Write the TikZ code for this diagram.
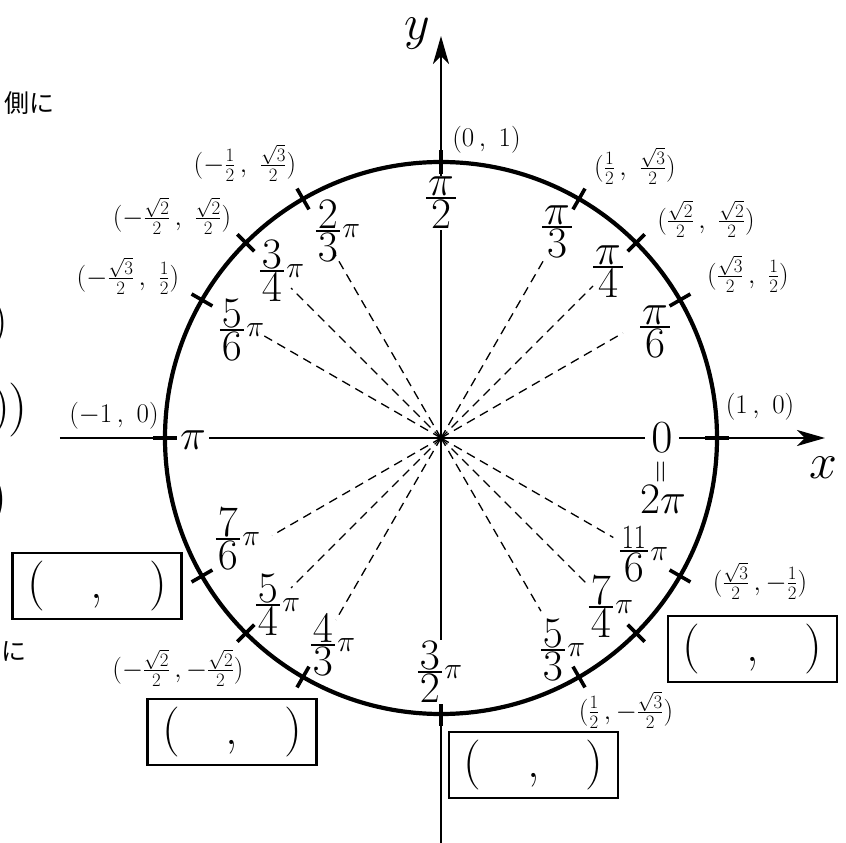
\RequirePackage{fix-cm}
\documentclass[tikz,border=0pt]{standalone}
\usepackage{fontspec}
\newfontfamily\jpfont{Noto Sans CJK JP}
\usetikzlibrary{arrows.meta}
\newcommand\myfr[2]{\vcenter{\offinterlineskip\halign{\hfil\kern2pt$##$\kern2pt\hfil\cr#1\cr\noalign{\kern1.5pt\hrule height1.8pt\kern1.5pt}#2\cr}}}
\newcommand\fpi[2]{$\myfr{#1}{#2}\mkern1mu\raisebox{4pt}{\fontsize{30}{30}\selectfont$\pi$}$}
\begin{document}
\begin{tikzpicture}[x=1pt,y=1pt,
  axis/.style={line width=2.4pt},
  tickmark/.style={line width=3.6pt},
  dashline/.style={line width=1.3pt, dash pattern=on 9pt off 6pt},
  ang/.style={font=\fontsize{43.5}{50}\selectfont, inner sep=1pt},
  crd/.style={font=\fontsize{27}{30}\selectfont, inner sep=0pt},
  qbox/.style={draw, line width=2.3pt, minimum width=169pt, minimum height=66pt, inner sep=0pt, font=\fontsize{50}{55}\selectfont},
  edge/.style={inner sep=0pt, anchor=east},
]
\useasboundingbox (-441,-405) rectangle (405,438);
\clip (-441,-405) rectangle (405,438);
\coordinate (O) at (0,0);
% dashed radii
\foreach \a/\l in {30/210,45/215,60/209,120/214,135/212,150/210,210/195,225/212,240/210,300/200,315/206,330/199}{
  \coordinate (d\a) at (\a:\l);
  \draw[dashline] (O) -- (d\a);
}
% circle
\draw[line width=4.2pt] (O) circle[radius=276];
% ticks
\foreach \a in {0,30,45,60,90,120,135,150,180,210,225,240,270,300,315,330}{
  \coordinate (ti\a) at (\a:264);
  \coordinate (to\a) at (\a:288);
  \draw[tickmark] (ti\a) -- (to\a);
}
% axes
\coordinate (xl) at (-381,0);
\coordinate (xr) at (384,0);
\coordinate (yb) at (0,-410);
\coordinate (yt) at (0,402);
\draw[axis,-{Stealth[length=28pt,width=16pt,inset=8pt]}] (xl) -- (xr);
\draw[axis,-{Stealth[length=28pt,width=16pt,inset=8pt]}] (yb) -- (yt);
\node[font=\fontsize{50}{50}\selectfont] (ylab) at (-24,404) {$y$};
\node[font=\fontsize{50}{50}\selectfont] (xlab) at (382,-30) {$x$};
% angle labels
\node[ang] (a30) at (214,106) {$\myfr{\pi}{6}$};
\node[ang] (a45) at (167,166) {$\myfr{\pi}{4}$};
\node[ang] (a60) at (116,206) {$\myfr{\pi}{3}$};
\node[ang,fill=white,inner xsep=4pt] (a90) at (0,235) {$\myfr{\pi}{2}$};
\node[ang] (a120) at (-103,207) {\fpi{2}{3}};
\node[ang] (a135) at (-159,167) {\fpi{3}{4}};
\node[ang] (a150) at (-199,108) {\fpi{5}{6}};
\node[ang,fill=white,inner xsep=3pt] (a180) at (-248,-2) {$\pi$};
\node[ang] (a210) at (-203,-101) {\fpi{7}{6}};
\node[ang] (a225) at (-163,-167) {\fpi{5}{4}};
\node[ang] (a240) at (-108,-207) {\fpi{4}{3}};
\node[ang,fill=white,inner ysep=2pt] (a270) at (-1,-234) {\fpi{3}{2}};
\node[ang] (a300) at (122,-212) {\fpi{5}{3}};
\node[ang] (a315) at (170,-169) {\fpi{7}{4}};
\node[ang] (a330) at (203,-116) {\fpi{\scalebox{0.6}[0.78]{$11$}}{6}};
\node[ang,fill=white,inner xsep=6pt,font=\fontsize{46}{50}\selectfont] (a0) at (221,0) {$0$};
\node[font=\fontsize{32}{32}\selectfont,inner sep=0pt] (eq) at (222,-34) {\rotatebox{90}{$=$}};
\node[ang] (a360) at (222,-61) {$2\pi$};
% coordinate labels
\node[crd] (c90) at (45.5,298) {$(0\,,\ 1)$};
\node[crd] (c60) at (194,272) {$(\frac12\,,\ \frac{\sqrt3}2)$};
\node[crd] (c45) at (265,219) {$(\frac{\sqrt2}2\,,\ \frac{\sqrt2}2)$};
\node[crd] (c30) at (307,164) {$(\frac{\sqrt3}2\,,\ \frac12)$};
\node[crd] (c0) at (319,31) {$(1\,,\ 0)$};
\node[crd] (c330) at (319,-143) {$(\frac{\sqrt3}2\,,-\frac12)$};
\node[crd] (c300) at (185,-272) {$(\frac12\,,-\frac{\sqrt3}2)$};
\node[crd] (c225) at (-263,-230) {$(-\frac{\sqrt2}2\,,-\frac{\sqrt2}2)$};
\node[crd] (c180) at (-327,22) {$(-1\,,\ 0)$};
\node[crd] (c150) at (-313,162) {$(-\frac{\sqrt3}2\,,\ \frac12)$};
\node[crd] (c135) at (-269,222) {$(-\frac{\sqrt2}2\,,\ \frac{\sqrt2}2)$};
\node[crd] (c120) at (-196,275) {$(-\frac12\,,\ \frac{\sqrt3}2)$};
% answer boxes
\node[qbox] (b210) at (-344,-148) {(\hspace{46pt},\hspace{46pt})};
\node[qbox] (b240) at (-209,-294) {(\hspace{46pt},\hspace{46pt})};
\node[qbox] (b270) at (92.5,-327) {(\hspace{46pt},\hspace{46pt})};
\node[qbox] (b315) at (311.5,-211) {(\hspace{46pt},\hspace{46pt})};
% cut-off material at the left edge
\node[inner sep=0pt,anchor=base east,font=\jpfont\fontsize{25}{25}\selectfont] (jp1) at (-386,325) {側に};
\node[inner sep=0pt,anchor=base east,font=\jpfont\fontsize{25}{25}\selectfont] (jp2) at (-414,-222) {に};
\node[edge,font=\fontsize{47}{47}\selectfont] (p1) at (-433,114.5) {)};
\node[edge,font=\fontsize{50}{50}\selectfont] (p2) at (-431,28) {)};
\node[edge,font=\fontsize{54}{54}\selectfont] (p3) at (-413,28) {)};
\node[edge,font=\fontsize{54}{54}\selectfont] (p4) at (-433,-62) {)};
\end{tikzpicture}
\end{document}
